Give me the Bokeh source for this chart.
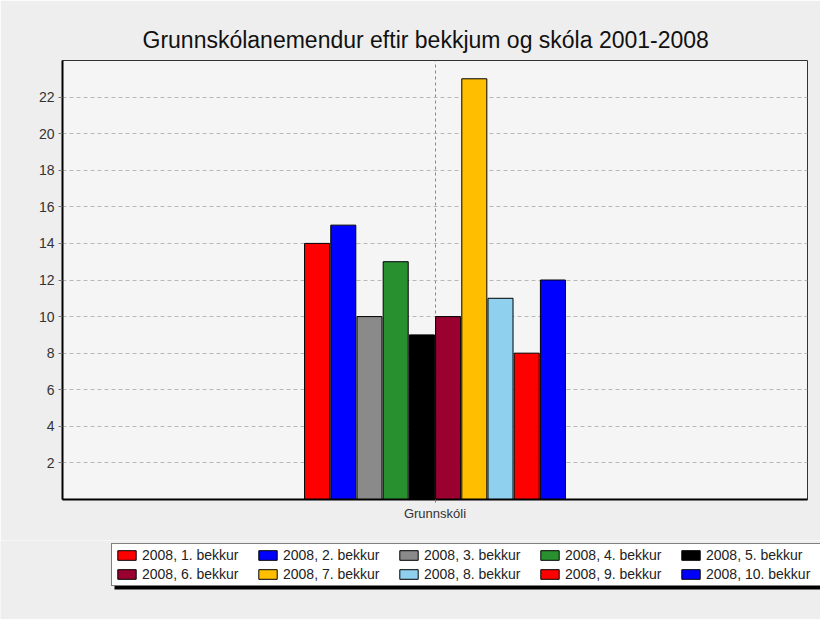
from bokeh.plotting import figure
from bokeh.layouts import column
from bokeh.models import (FactorRange, Range1d, FixedTicker, Legend, LegendItem,
                          ColumnDataSource)
from bokeh.transform import dodge
from bokeh.embed import file_html
from bokeh.resources import INLINE

categories = ["Grunnskóli"]
series_labels = ["2008, 1. bekkur", "2008, 2. bekkur", "2008, 3. bekkur", "2008, 4. bekkur",
                 "2008, 5. bekkur", "2008, 6. bekkur", "2008, 7. bekkur", "2008, 8. bekkur",
                 "2008, 9. bekkur", "2008, 10. bekkur"]
series_values = [14, 15, 10, 13, 9, 10, 23, 11, 8, 12]
series_colors = ["#ff0000", "#0000ff", "#8a8a8a", "#28902f", "#000000",
                 "#9a0030", "#ffbf00", "#8fd0ee", "#ff0000", "#0000ff"]
y_ticks = [2, 4, 6, 8, 10, 12, 14, 16, 18, 20, 22]

FONT = "Liberation Sans"
BG = "#eeeeee"

# ---------------- main chart ----------------
p = figure(width=820, height=540, x_range=FactorRange(*categories, range_padding=0),
           y_range=Range1d(0, 24), output_backend="svg", toolbar_location=None,
           min_border_left=62, min_border_right=13, min_border_top=60, min_border_bottom=41,
           background_fill_color="#f5f5f5", border_fill_color=BG, frame_align=False)

p.title.text = "Grunnskólanemendur eftir bekkjum og skóla 2001-2008"
p.title.text_font = FONT
p.title.text_font_size = "23px"
p.title.text_font_style = "normal"
p.title.text_color = "#111111"
p.title.align = "left"
p.title.offset = 80
p.title.standoff = 15

step = 0.03517
width = 0.0336
for i, (lab, val, col) in enumerate(zip(series_labels, series_values, series_colors)):
    src = ColumnDataSource(dict(x=categories, top=[val]))
    p.vbar(x=dodge("x", (i - 4.5) * step, range=p.x_range), top="top", bottom=0,
           width=width, source=src, fill_color=col, line_color="#000000", line_width=1)

p.outline_line_color = "#333333"
p.outline_line_width = 1

p.yaxis.ticker = FixedTicker(ticks=y_ticks)
p.yaxis.axis_line_color = "#000000"
p.yaxis.axis_line_width = 2
p.yaxis.major_tick_out = 4
p.yaxis.major_tick_in = 0
p.yaxis.minor_tick_out = 0
p.yaxis.minor_tick_in = 0
p.yaxis.major_tick_line_color = "#777777"
p.yaxis.major_label_standoff = 4
p.yaxis.major_label_text_font = FONT
p.yaxis.major_label_text_font_size = "14px"
p.yaxis.major_label_text_color = "#333333"

p.xaxis.axis_line_color = "#000000"
p.xaxis.axis_line_width = 2
p.xaxis.major_tick_out = 3
p.xaxis.major_tick_in = 0
p.xaxis.major_tick_line_color = "#777777"
p.xaxis.major_label_standoff = 3
p.xaxis.major_label_text_font = FONT
p.xaxis.major_label_text_font_size = "13px"
p.xaxis.major_label_text_color = "#333333"

p.ygrid.grid_line_color = "#b8b8b8"
p.ygrid.grid_line_dash = "4 3"
p.ygrid.grid_line_width = 1
p.xgrid.grid_line_color = "#888888"
p.xgrid.grid_line_dash = "3 3"
p.xgrid.grid_line_width = 1

# ---------------- legend strip ----------------
H2 = 79
W2 = 820
p2 = figure(width=W2, height=H2, x_range=Range1d(0, W2), y_range=Range1d(H2, 0),
            output_backend="svg", toolbar_location=None,
            x_axis_location=None, y_axis_location=None,
            min_border=0, min_border_left=0, min_border_right=0,
            min_border_top=0, min_border_bottom=0, frame_align=False,
            background_fill_color=BG, border_fill_color=BG, outline_line_color=None)
p2.grid.visible = False

# legend drop shadow
p2.quad(left=[114], right=[W2], top=[12], bottom=[49], fill_color="#000000",
        line_color=None)

# proxy renderers (placed far outside the visible range) carrying each series' style
items = []
for lab, col in zip(series_labels, series_colors):
    r = p2.vbar(x=[W2 * 20], top=[H2 * 20], bottom=[H2 * 19], width=1, fill_color=col,
                line_color="#000000", line_width=1)
    items.append(LegendItem(label=lab, renderers=[r]))

legend = Legend(items=items, location=(111, H2 - 46), orientation="horizontal", ncols=5,
                glyph_width=23, glyph_height=12, label_standoff=4, label_width=111,
                label_height=14, spacing=3, padding=3, margin=0,
                label_text_font=FONT, label_text_font_size="14px", label_text_color="#222222",
                border_line_color="#000000", border_line_width=1,
                background_fill_color="#ffffff", background_fill_alpha=1.0)
p2.add_layout(legend, "center")

layout = column(p, p2, spacing=0)
open("out.html", "w").write(file_html(layout, INLINE))
